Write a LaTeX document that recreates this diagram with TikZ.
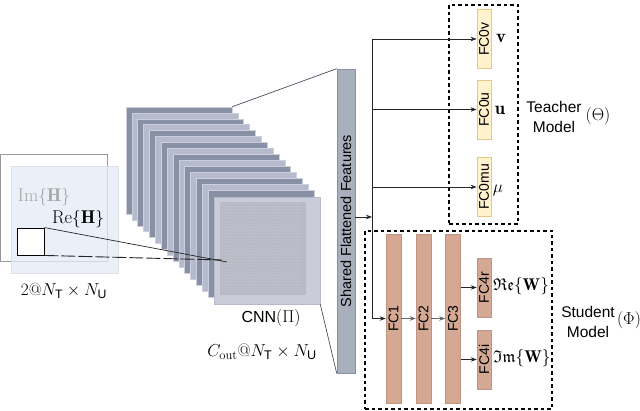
\documentclass[tikz,border=0pt]{standalone}
\usepackage{fontspec}
\setsansfont{Liberation Sans}
\usepackage{amssymb}
\usepackage{graphicx}
\usetikzlibrary{arrows.meta,patterns}
\definecolor{layerdark}{HTML}{8790A4}
\definecolor{layerlight}{HTML}{B6BACD}
\definecolor{layerfront}{HTML}{CACCDA}
\definecolor{layerinner}{HTML}{B8BAC5}
\definecolor{barfill}{HTML}{A9B0BD}
\definecolor{tfill}{HTML}{FFF2CC}
\definecolor{tborder}{HTML}{E6C884}
\definecolor{sfill}{HTML}{D4A892}
\definecolor{sborder}{HTML}{BF9480}
\definecolor{planeblue}{HTML}{E4EBF6}
\definecolor{linegray}{HTML}{4A4F5E}
\begin{document}
\begin{tikzpicture}[x=1pt,y=-1pt,
  font=\sffamily\fontsize{14}{16}\selectfont,
  layer/.style={draw=layerlight!70!white, line width=0.6pt, minimum width=106pt, minimum height=107pt, inner sep=0pt},
  tfc/.style={draw=tborder, fill=tfill, line width=0.8pt, minimum width=14pt, minimum height=59pt, inner sep=0pt},
  sfc/.style={draw=sborder, fill=sfill, line width=0.6pt, minimum width=15pt, inner sep=0pt},
  dashbox/.style={draw=black, line width=1.3pt, dash pattern=on 3.5pt off 3pt, inner sep=0pt},
  arr/.style={-{Stealth[length=6pt,width=4.5pt]}, line width=0.7pt, draw=black!85},
  mathlbl/.style={font=\fontsize{18.5}{20}\selectfont, inner sep=0pt},
  grouplbl/.style={align=center, font=\sffamily\fontsize{15.5}{20}\selectfont}
]
\useasboundingbox (0,0) rectangle (640,411);

% input planes
\node[draw=gray!80, fill=white, line width=0.8pt, minimum size=107pt, inner sep=0pt] (inb) at (53.5,207.5) {};
\node[draw=planeblue!70!gray!60, fill=planeblue, fill opacity=0.75, line width=0.8pt, minimum size=107pt, inner sep=0pt] (inf) at (64.5,219.5) {};
\node[draw=black, fill=white, line width=0.9pt, minimum size=27pt, inner sep=0pt] (sq) at (30.5,241.5) {};
\node[mathlbl, text=gray!70] (imh) at (44,197) {$\mathrm{Im}\{\mathbf{H}\}$};
\node[mathlbl] (reh) at (78,219) {$\mathrm{Re}\{\mathbf{H}\}$};
\node[mathlbl, font=\fontsize{17.5}{20}\selectfont] (inlbl) at (64,291) {$2@N_{\mathsf{T}}\times N_{\mathsf{U}}$};

% CNN layers
\foreach \i in {0,...,14}{
  \ifodd\i \def\lc{layerlight}\else\def\lc{layerdark}\fi
  \node[layer, fill=\lc] (l\i) at ({179+5.87*\i},{160.5+5.93*\i}) {};
}
\node[layer, fill=layerfront, draw=layerlight] (l15) at (267,250.5) {};
\fill[layerinner] (220,202) rectangle (306,295);
\fill[pattern=dots, pattern color=white, opacity=0.45] (222,204) rectangle (302,292);
\node[font=\sffamily\fontsize{16}{18}\selectfont] (cnnlbl) at (271,318) {CNN$(\Pi)$};
\node[mathlbl, font=\fontsize{18}{20}\selectfont] (outlbl) at (262,352) {$C_{\mathrm{out}}@N_{\mathsf{T}}\times N_{\mathsf{U}}$};

% lines from input square to CNN front
\coordinate (tgt1) at (227,262);
\coordinate (tgt2) at (222,260);
\draw[black!85, line width=0.7pt] (sq.north east) -- (tgt1);
\draw[black!85, line width=0.9pt, dash pattern=on 14pt off 3pt] (sq.south east) -- (tgt2);

% shared flattened features bar
\node[draw=layerdark, fill=barfill, line width=0.6pt, minimum width=18pt, minimum height=304pt, inner sep=0pt, font=\sffamily\fontsize{14.5}{16}\selectfont] (bar) at (346,221) {\rotatebox{90}{Shared Flattened Features}};
\draw[linegray, line width=0.7pt] (l0.north east) -- (bar.north west);
\draw[linegray, line width=0.7pt] (l15.south east) -- (bar.south west);

% teacher
\node[dashbox, minimum width=69pt, minimum height=219pt] (teacher) at (483.5,114.5) {};
\node[tfc] (fc0v) at (484,39) {\rotatebox{90}{FC0v}};
\node[tfc] (fc0u) at (484,109.5) {\rotatebox{90}{FC0u}};
\node[tfc] (fc0mu) at (484,187) {\rotatebox{90}{FC0mu}};
\node[mathlbl] (vl) at (501,38) {$\mathbf{v}$};
\node[mathlbl] (ul) at (500,110) {$\mathbf{u}$};
\node[mathlbl] (mul) at (498,190) {$\mu$};
\node[grouplbl] (tlbl) at (554,117) {Teacher\\Model};
\node[font=\fontsize{17}{19}\selectfont] (tth) at (598,116) {$(\Theta)$};

% student
\node[dashbox, minimum width=187pt, minimum height=178pt] (student) at (458.5,320) {};
\node[sfc, minimum height=169pt] (fc1) at (393.5,318.5) {\rotatebox{90}{FC1}};
\node[sfc, minimum height=169pt] (fc2) at (423.5,318.5) {\rotatebox{90}{FC2}};
\node[sfc, minimum height=169pt] (fc3) at (453,318.5) {\rotatebox{90}{FC3}};
\node[sfc, minimum width=14pt, minimum height=59pt] (fc4r) at (484,287.5) {\rotatebox{90}{FC4r}};
\node[sfc, minimum width=14pt, minimum height=59pt] (fc4i) at (484,359.5) {\rotatebox{90}{FC4i}};
\node[mathlbl, anchor=west, font=\fontsize{17}{19}\selectfont] (rew) at (493,286) {$\mathfrak{Re}\{\mathbf{W}\}$};
\node[mathlbl, anchor=west, font=\fontsize{17}{19}\selectfont] (imw) at (493,358) {$\mathfrak{Im}\{\mathbf{W}\}$};
\node[grouplbl] (slbl) at (588,322) {Student\\Model};
\node[font=\fontsize{17}{19}\selectfont] (sph) at (629,320) {$(\Phi)$};

% connectors
\coordinate (bt) at (372,39);
\coordinate (bj) at (372,217);
\coordinate (bb) at (372,318.5);
\draw[arr] (bar.east |- bj) -- (bj);
\draw[arr] (bt) -- (fc0v.west);
\draw[arr] (bt |- fc0u.west) -- (fc0u.west);
\draw[arr] (bt |- fc0mu.west) -- (fc0mu.west);
\draw[arr] (bt) -- (bb) -- (fc1.west);
\draw[arr, draw=black!60] (fc1.east) -- (fc2.west);
\draw[arr, draw=black!60] (fc2.east) -- (fc3.west);
\draw[arr] (fc3.east |- fc4r.west) -- (fc4r.west);
\draw[arr] (fc3.east |- fc4i.west) -- (fc4i.west);
\end{tikzpicture}
\end{document}
